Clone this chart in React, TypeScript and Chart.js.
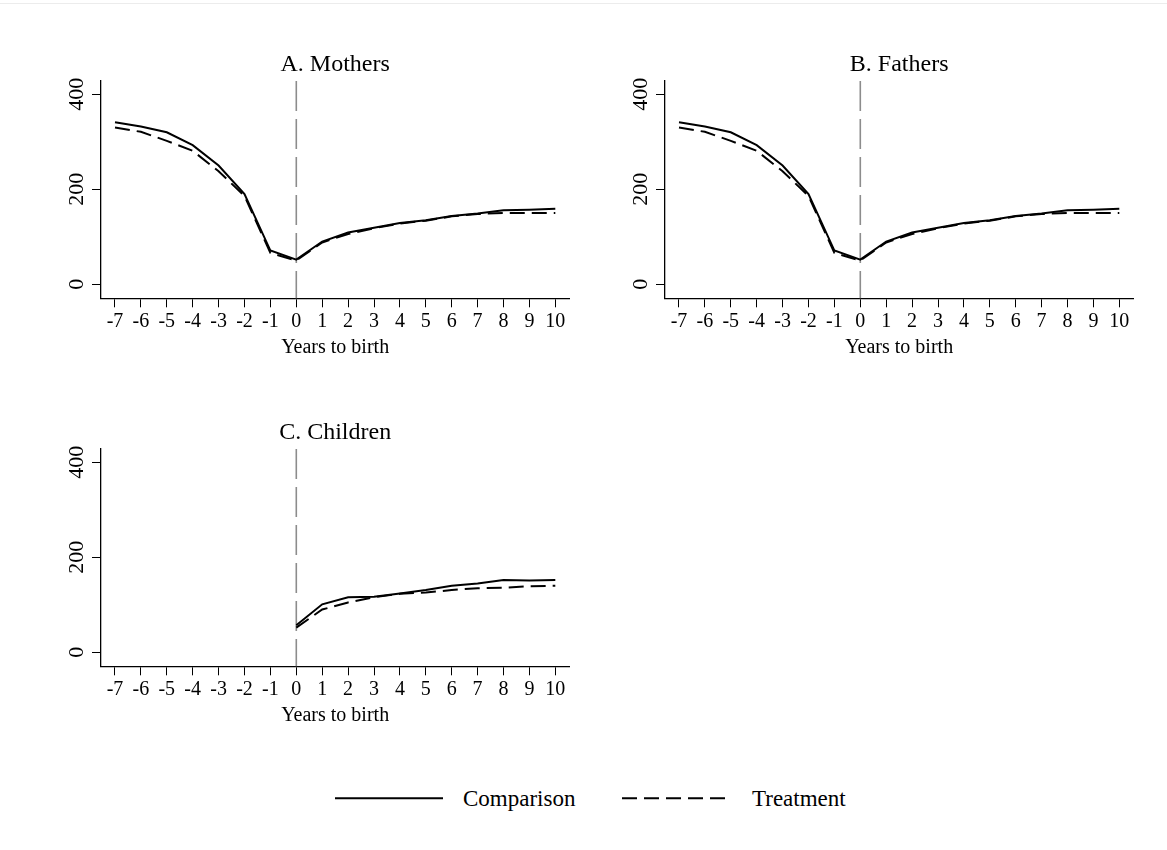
import React, { useEffect, useRef } from "react";
import Chart from "chart.js/auto";

// Years relative to birth (x axis)
const years = [-7, -6, -5, -4, -3, -2, -1, 0, 1, 2, 3, 4, 5, 6, 7, 8, 9, 10];
const xTickValues = [-7, -6, -5, -4, -3, -2, -1, 0, 1, 2, 3, 4, 5, 6, 7, 8, 9, 10];
const yTickValues = [0, 200, 400];

// A. Mothers
const mothersComparison = [341, 332, 320, 293, 250, 190, 71, 52, 90, 109, 119, 129, 135, 144, 149, 156, 157, 159];
const mothersTreatment = [330, 321, 302, 281, 238, 186, 66, 50, 88, 106, 118, 128, 134, 143, 148, 150, 150, 150];

// B. Fathers
const fathersComparison = [341, 332, 320, 293, 250, 190, 71, 52, 90, 109, 119, 129, 135, 144, 149, 156, 157, 159];
const fathersTreatment = [330, 321, 302, 281, 238, 186, 66, 50, 88, 106, 118, 128, 134, 143, 148, 150, 150, 150];

// C. Children (observed from birth onwards)
const childrenComparison = [null, null, null, null, null, null, null, 57, 101, 116, 117, 124, 131, 140, 145, 152, 151, 152];
const childrenTreatment = [null, null, null, null, null, null, null, 52, 90, 105, 116, 123, 126, 131, 135, 136, 139, 140];

const seriesLabels = ["Comparison", "Treatment"];

const FONT = '"Liberation Serif", "Times New Roman", serif';
const CANVAS_W = 583;
const CANVAS_H = 370;
const TREAT_DASH = [15, 7];

// dashed grey reference line at year 0
const birthLine = {
  id: "birthLine",
  beforeDatasetsDraw(chart: any) {
    const { ctx, chartArea, scales } = chart;
    const x = scales.x.getPixelForValue(0);
    ctx.save();
    ctx.strokeStyle = "#8c8c8c";
    ctx.lineWidth = 1.6;
    ctx.setLineDash([30, 8]);
    ctx.beginPath();
    ctx.moveTo(x, chartArea.top);
    ctx.lineTo(x, chartArea.bottom);
    ctx.stroke();
    ctx.restore();
  },
};

// vertical (rotated) y tick labels and the panel heading
const panelText = {
  id: "panelText",
  afterDraw(chart: any, _args: any, opts: any) {
    const { ctx, chartArea, scales } = chart;
    ctx.save();
    ctx.fillStyle = "#000";
    ctx.font = `22px ${FONT}`;
    ctx.textAlign = "center";
    ctx.textBaseline = "alphabetic";
    for (const v of yTickValues) {
      const y = scales.y.getPixelForValue(v);
      ctx.save();
      ctx.translate(chartArea.left - 18.5, y);
      ctx.rotate(-Math.PI / 2);
      ctx.fillText(String(v), 0, 0);
      ctx.restore();
    }
    ctx.font = `24px ${FONT}`;
    ctx.fillText(opts.heading, (chartArea.left + chartArea.right) / 2, chartArea.top - 10);
    ctx.restore();
  },
};

type PanelProps = {
  heading: string;
  comparison: (number | null)[];
  treatment: (number | null)[];
  left: number;
  top: number;
};

function Panel({ heading, comparison, treatment, left, top }: PanelProps) {
  const ref = useRef<HTMLCanvasElement>(null);

  useEffect(() => {
    if (!ref.current) return;
    const chart = new Chart(ref.current, {
      type: "line",
      data: {
        datasets: [
          {
            label: seriesLabels[0],
            data: years.map((x, i) => ({ x, y: comparison[i] })),
            borderColor: "#000",
            borderWidth: 2,
            pointRadius: 0,
            tension: 0,
            spanGaps: false,
          },
          {
            label: seriesLabels[1],
            data: years.map((x, i) => ({ x, y: treatment[i] })),
            borderColor: "#000",
            borderWidth: 2,
            borderDash: TREAT_DASH,
            pointRadius: 0,
            tension: 0,
            spanGaps: false,
          },
        ],
      },
      options: {
        animation: false,
        responsive: false,
        maintainAspectRatio: false,
        events: [],
        layout: { padding: { left: 101, top: 81, right: CANVAS_W - 569.3, bottom: CANVAS_H - 298.3 - 70 } },
        plugins: {
          legend: { display: false },
          tooltip: { enabled: false },
          title: { display: false },
          panelText: { heading },
        } as any,
        scales: {
          x: {
            type: "linear",
            min: -7.54,
            max: 10.54,
            afterBuildTicks: (s: any) => {
              s.ticks = xTickValues.map((value) => ({ value }));
            },
            afterFit: (s: any) => {
              s.height = 70;
            },
            grid: { drawOnChartArea: false, drawTicks: true, tickLength: 9, color: "#000", lineWidth: 1 },
            border: { display: true, color: "#000", width: 1.3 },
            ticks: {
              color: "#000",
              font: { family: FONT, size: 20 },
              padding: 2,
              maxRotation: 0,
              minRotation: 0,
              autoSkip: false,
              callback: (v: any) => String(v),
            },
            title: {
              display: true,
              text: "Years to birth",
              color: "#000",
              font: { family: FONT, size: 20 },
              padding: { top: 0, bottom: 9 },
            },
          },
          y: {
            type: "linear",
            min: -29.5,
            max: 428,
            afterBuildTicks: (s: any) => {
              s.ticks = yTickValues.map((value) => ({ value }));
            },
            afterFit: (s: any) => {
              s.width = 0;
            },
            grid: { drawOnChartArea: false, drawTicks: true, tickLength: 9, color: "#000", lineWidth: 1 },
            border: { display: true, color: "#000", width: 1.3 },
            ticks: { display: false },
          },
        },
      },
      plugins: [birthLine, panelText],
    } as any);
    return () => chart.destroy();
  }, [heading, comparison, treatment]);

  return (
    <canvas
      ref={ref}
      width={CANVAS_W}
      height={CANVAS_H}
      style={{ position: "absolute", left, top, width: CANVAS_W, height: CANVAS_H, display: "block" }}
    />
  );
}

function Legend() {
  return (
    <svg
      width={1167}
      height={60}
      style={{ position: "absolute", left: 0, top: 770, display: "block" }}
    >
      <line x1={335} x2={443} y1={28.3} y2={28.3} stroke="#000" strokeWidth={2} />
      <text x={463} y={36} fontFamily={FONT} fontSize={23} fill="#000">
        {seriesLabels[0]}
      </text>
      <line
        x1={622}
        x2={728}
        y1={28.3}
        y2={28.3}
        stroke="#000"
        strokeWidth={2}
        strokeDasharray={TREAT_DASH.join(" ")}
      />
      <text x={752} y={36} fontFamily={FONT} fontSize={23} fill="#000">
        {seriesLabels[1]}
      </text>
    </svg>
  );
}

export default function App() {
  return (
    <div
      style={{
        position: "absolute",
        left: 0,
        top: 0,
        width: 1167,
        height: 850,
        background: "#fff",
        overflow: "hidden",
      }}
    >
      {/* faint outer frame edge of the figure */}
      <div
        style={{ position: "absolute", left: 0, top: 3, width: 1167, height: 1, background: "#ececec" }}
      />
      <Panel heading="A. Mothers" comparison={mothersComparison} treatment={mothersTreatment} left={0} top={0} />
      <Panel heading="B. Fathers" comparison={fathersComparison} treatment={fathersTreatment} left={564} top={0} />
      <Panel heading="C. Children" comparison={childrenComparison} treatment={childrenTreatment} left={0} top={368} />
      <Legend />
    </div>
  );
}
